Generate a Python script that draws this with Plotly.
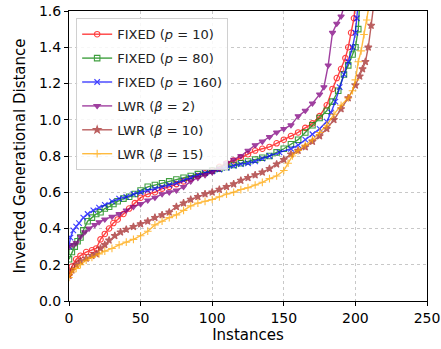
import plotly.graph_objects as go

# ---- data ----
red_x = [0,2,5,8,12,16,19,22,25,28,31,34,38,42,46,50,55,60,65,70,75,80,85,90,95,100,105,110,115,120,125,130,135,140,145,150,155,160,165,170,175,180,184,187,190,193,195,197,199,200]
red_y = [0.15,0.19,0.23,0.25,0.27,0.28,0.29,0.34,0.37,0.40,0.43,0.45,0.48,0.51,0.54,0.57,0.59,0.60,0.62,0.63,0.645,0.66,0.675,0.69,0.705,0.72,0.74,0.76,0.775,0.79,0.81,0.83,0.84,0.85,0.87,0.89,0.91,0.93,0.955,0.98,1.02,1.08,1.17,1.23,1.28,1.34,1.40,1.48,1.56,1.65]

green_x = [0,2,4,6,8,10,13,16,19,22,25,28,31,34,38,42,46,50,55,60,65,70,75,80,85,90,95,100,105,110,115,120,125,130,135,140,145,150,155,160,165,170,175,180,184,188,192,195,198,200,202,203]
green_y = [0.23,0.27,0.30,0.33,0.35,0.39,0.44,0.46,0.48,0.49,0.51,0.52,0.535,0.55,0.565,0.575,0.59,0.61,0.63,0.64,0.65,0.66,0.67,0.68,0.69,0.70,0.71,0.72,0.73,0.74,0.75,0.76,0.77,0.78,0.79,0.80,0.82,0.84,0.865,0.89,0.93,0.97,1.01,1.05,1.10,1.16,1.25,1.30,1.36,1.40,1.50,1.65]

blue_x = [0,1,3,5,7,10,13,17,21,25,30,35,40,45,50,55,60,65,70,75,80,85,90,95,100,105,110,115,120,125,130,135,140,147,155,160,165,170,175,180,183,186,189,192,195,198,200,201,202]
blue_y = [0.30,0.35,0.39,0.41,0.43,0.46,0.48,0.50,0.515,0.53,0.55,0.565,0.575,0.59,0.60,0.61,0.62,0.63,0.64,0.65,0.665,0.68,0.695,0.705,0.715,0.725,0.735,0.745,0.755,0.76,0.77,0.785,0.80,0.82,0.84,0.86,0.89,0.92,0.95,0.99,1.04,1.10,1.18,1.25,1.32,1.40,1.48,1.56,1.65]

purple_x = [0,3,5,8,11,14,18,21,25,30,35,40,45,50,55,60,65,70,75,80,85,90,95,100,105,110,115,120,125,130,135,140,145,150,155,160,165,170,175,178,181,184,187,190,193]
purple_y = [0.30,0.31,0.32,0.355,0.38,0.40,0.42,0.435,0.45,0.465,0.48,0.50,0.52,0.535,0.555,0.57,0.59,0.60,0.61,0.63,0.66,0.68,0.695,0.71,0.73,0.76,0.78,0.80,0.83,0.86,0.88,0.905,0.93,0.95,0.97,1.02,1.05,1.09,1.14,1.18,1.30,1.48,1.53,1.57,1.65]

brown_x = [0,2,5,8,12,16,19,22,25,28,32,36,40,45,50,55,60,65,70,75,80,85,90,95,100,105,110,115,120,125,130,135,140,145,150,155,160,165,170,175,180,185,190,195,200,203,205,207,209,211,213]
brown_y = [0.14,0.17,0.20,0.22,0.235,0.25,0.26,0.29,0.31,0.335,0.36,0.38,0.395,0.41,0.425,0.44,0.46,0.475,0.49,0.52,0.54,0.56,0.575,0.59,0.60,0.615,0.63,0.645,0.665,0.68,0.695,0.71,0.73,0.755,0.78,0.81,0.83,0.85,0.88,0.91,0.95,1.00,1.06,1.12,1.19,1.24,1.28,1.32,1.40,1.52,1.65]

orange_x = [0,2,5,8,12,16,21,25,30,35,40,45,50,55,60,65,70,75,80,85,90,95,100,105,110,115,120,125,130,135,140,145,150,153,156,160,165,170,175,180,185,190,195,198,200,202,204,206,208,210]
orange_y = [0.13,0.16,0.18,0.20,0.225,0.24,0.26,0.275,0.29,0.31,0.325,0.34,0.36,0.385,0.42,0.44,0.46,0.475,0.50,0.525,0.54,0.55,0.56,0.575,0.59,0.60,0.615,0.625,0.64,0.655,0.675,0.69,0.72,0.76,0.80,0.83,0.86,0.89,0.93,0.97,1.03,1.08,1.12,1.16,1.22,1.32,1.38,1.47,1.55,1.65]

names = ["FIXED (<i>p</i> = 10)", "FIXED (<i>p</i> = 80)", "FIXED (<i>p</i> = 160)",
         "LWR (<i>β</i> = 2)", "LWR (<i>β</i> = 10)", "LWR (<i>β</i> = 15)"]

x_ticks = [0, 50, 100, 150, 200, 250]
y_ticks = [0.0, 0.2, 0.4, 0.6, 0.8, 1.0, 1.2, 1.4, 1.6]

series = [
    (red_x, red_y, "red", "circle-open"),
    (green_x, green_y, "green", "square-open"),
    (blue_x, blue_y, "blue", "x-thin-open"),
    (purple_x, purple_y, "purple", "triangle-down"),
    (brown_x, brown_y, "brown", "star"),
    (orange_x, orange_y, "orange", "cross-thin-open"),
]

fig = go.Figure()
for i, (xs, ys, col, sym) in enumerate(series):
    fig.add_trace(go.Scatter(
        x=xs, y=ys, name=names[i], mode="lines+markers",
        legendgroup=str(i),
        line=dict(color=col, width=1.4),
        marker=dict(symbol=sym, size=5.5, color=col, line=dict(color=col, width=1.1)),
        opacity=0.75,
    ))

font = "DejaVu Sans"
fig.update_layout(
    width=441, height=349,
    margin=dict(l=69, r=14, t=11, b=48),
    paper_bgcolor="white", plot_bgcolor="white",
    font=dict(family=font, size=14, color="black"),
    showlegend=True,
    legend=dict(x=0.02, y=0.975, xanchor="left", yanchor="top",
                bgcolor="rgba(255,255,255,0.85)", bordercolor="#d0d0d0", borderwidth=1,
                font=dict(family=font, size=13, color="#222"),
                traceorder="grouped", tracegroupgap=4, itemwidth=30),
)
fig.update_xaxes(range=[0, 250], tickvals=x_ticks, ticktext=[str(v) for v in x_ticks],
                 showgrid=True, gridcolor="#c8c8c8", griddash="dot", gridwidth=1,
                 showline=True, linecolor="black", linewidth=1, mirror=True,
                 ticks="outside", ticklen=4, tickcolor="black", zeroline=False,
                 automargin=False, ticklabeloverflow="allow",
                 title=dict(text="Instances", font=dict(size=15), standoff=0))
fig.update_yaxes(range=[0, 1.6], tickvals=y_ticks, ticktext=[f"{v:.1f}" for v in y_ticks],
                 showgrid=True, gridcolor="#c8c8c8", griddash="dot", gridwidth=1,
                 showline=True, linecolor="black", linewidth=1, mirror=True,
                 ticks="outside", ticklen=4, tickcolor="black", zeroline=False,
                 automargin=False, ticklabeloverflow="allow",
                 title=dict(text="Inverted Generational Distance", font=dict(size=15), standoff=9))

# remove the default 8px page margin so the 441x349 figure fills the window
fig.write_html("out.html", config={"displayModeBar": False},
               post_script="document.body.style.margin='0';")
